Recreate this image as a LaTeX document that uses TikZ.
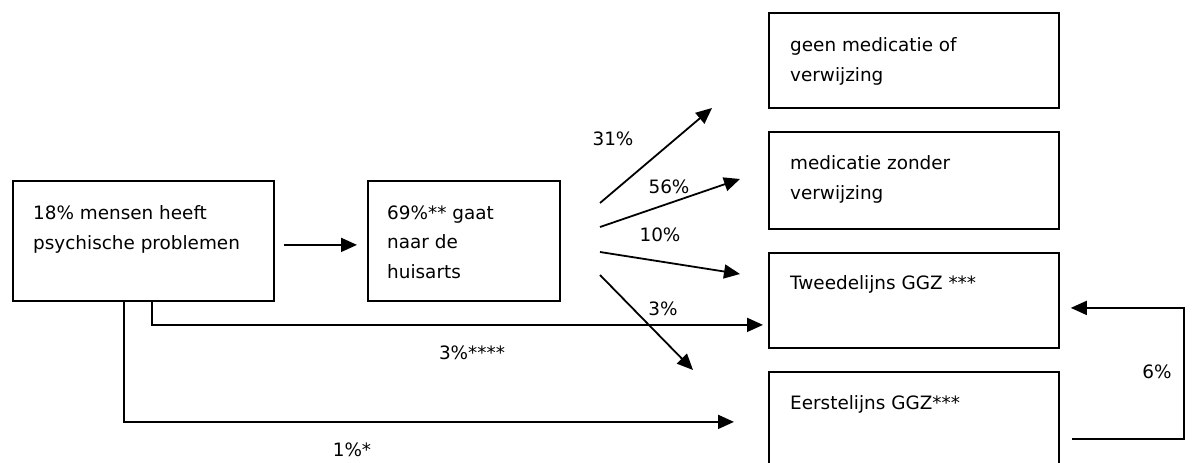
\documentclass[tikz,border=0pt]{standalone}
\usepackage{fontspec}
\setmainfont{DejaVu Sans}
\usetikzlibrary{arrows.meta,calc}
\begin{document}
\begin{tikzpicture}[x=1pt,y=-1pt,
  box/.style={draw, line width=1.8pt, rectangle, inner sep=0pt, anchor=north west},
  txt/.style={inner sep=0pt, anchor=north west, align=left, font=\fontsize{18.4}{29.5}\selectfont},
  lbl/.style={inner sep=0pt, font=\fontsize{18.4}{22}\selectfont},
  con/.style={line width=1.8pt},
  arr/.style={con, -{Triangle[length=16pt,width=14pt]}}]
\clip (0,0) rectangle (1192,463);
% boxes
\node[box, minimum width=261pt, minimum height=120pt] (a) at (12,180) {};
\node[box, minimum width=192pt, minimum height=120pt] (b) at (367,180) {};
\node[box, minimum width=290pt, minimum height=95pt] (c1) at (768,12) {};
\node[box, minimum width=290pt, minimum height=97pt] (c2) at (768,131) {};
\node[box, minimum width=290pt, minimum height=95pt] (c3) at (768,252) {};
\node[box, minimum width=290pt, minimum height=104pt] (c4) at (768,371) {};
% texts
\node[txt] (ta) at (33,205.5) {18\% mensen heeft\\psychische problemen};
\node[txt] (tb) at (387,205.5) {69\%** gaat\\naar de\\huisarts};
\node[txt] (t1) at (790,37.5) {geen medicatie of\\verwijzing};
\node[txt] (t2) at (790,155.5) {medicatie zonder\\verwijzing};
\node[txt] (t3) at (790,275.5) {Tweedelijns GGZ ***};
\node[txt] (t4) at (790,395.5) {Eerstelijns GGZ***};
% fan coordinates
\coordinate (f1s) at (600,203); \coordinate (f1e) at (712,108);
\coordinate (f2s) at (600,227); \coordinate (f2e) at (740,179);
\coordinate (f3s) at (600,252); \coordinate (f3e) at (740,274);
\coordinate (f4s) at (600,275); \coordinate (f4e) at (693,370);
% connectors
\draw[arr, shorten <=9pt, shorten >=10pt] ([yshift=-4pt]a.east) -- ([yshift=-4pt]b.west);
\draw[arr] (f1s) -- (f1e);
\draw[arr] (f2s) -- (f2e);
\draw[arr] (f3s) -- (f3e);
\draw[arr] (f4s) -- (f4e);
\draw[arr, shorten >=5pt] ([xshift=140pt]a.south west) |- ([yshift=-24.5pt]c3.west);
\draw[arr, shorten >=34pt] ([xshift=112pt]a.south west) |- ([yshift=2pt]c4.west);
\draw[arr] ([xshift=12pt,yshift=-15pt]c4.east) -- ++(112,0) |- ([xshift=11pt,yshift=-7.5pt]c3.east);
% labels
\node[lbl] (l31) at (613,139) {31\%};
\node[lbl] (l56) at (669,187) {56\%};
\node[lbl] (l10) at (660,235) {10\%};
\node[lbl] (l3) at (663,309) {3\%};
\node[lbl] (l3s) at (472,353) {3\%****};
\node[lbl] (l1s) at (352,450) {1\%*};
\node[lbl] (l6) at (1157,372) {6\%};
\end{tikzpicture}
\end{document}
